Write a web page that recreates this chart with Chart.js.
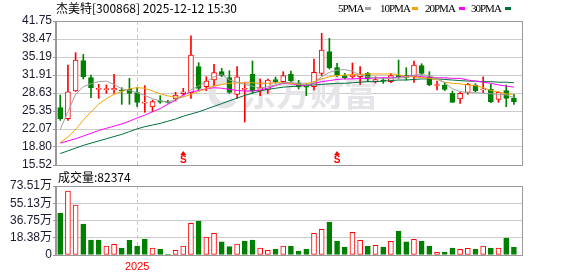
<!DOCTYPE html>
<html lang="zh">
<head>
<meta charset="utf-8">
<title>杰美特 周K线</title>
<script src="https://cdn.jsdelivr.net/npm/chart.js@4.4.1/dist/chart.umd.min.js"></script>
<style>
  html, body { margin: 0; padding: 0; background: #fff; }
  #wrap { position: relative; width: 578px; height: 276px; overflow: hidden; }
  canvas { position: absolute; left: 0; }
  #kCanvas { top: 0; }
  #volCanvas { top: 170px; }
  .txt { position: absolute; font: 12px "Noto Sans CJK SC", sans-serif; line-height: 12px; color: #000; white-space: nowrap; }
  .lg { position: absolute; top: 3px; font: 11px "Liberation Serif", serif; letter-spacing: -1px; line-height: 11px; color: #000; white-space: nowrap; }
  .sw { position: absolute; top: 7px; width: 6px; height: 3px; }
</style>
</head>
<body>
<div id="wrap">
  <canvas id="kCanvas" width="578" height="176"></canvas>
  <canvas id="volCanvas" width="578" height="106"></canvas>
  <div class="txt" id="title" style="left:56px; top:2px">杰美特[300868] 2025-12-12 15:30</div>
  <div class="lg" style="left:338px">5PMA</div><div class="sw" style="left:365px; background:#a0a0a0"></div>
  <div class="lg" style="left:380px">10PMA</div><div class="sw" style="left:412px; background:#f5a300"></div>
  <div class="lg" style="left:425px">20PMA</div><div class="sw" style="left:459px; background:#ff00ff"></div>
  <div class="lg" style="left:471px">30PMA</div><div class="sw" style="left:505px; background:#00703a"></div>
  <div class="txt" id="volTitle" style="left:58px; top:171px">成交量:82374</div>
</div>
<script>
// 杰美特(300868) 周K线，60 周，最后一周 2025-12-12
const opens  = [25.96,23.96,29.0,34.52,31.43,29.3,29.25,29.2,29.12,29.3,
                28.69,26.8,26.08,27.2,27.1,27.54,28.51,28.7,33.43,29.79,
                31.0,32.52,31.43,28.39,29.3,32.03,29.0,29.18,31.06,30.7,
                32.03,30.45,29.8,29.79,32.21,36.16,33.25,31.79,31.6,31.6,
                32.21,30.7,30.9,30.7,31.8,31.79,31.6,33.61,31.6,30.0,
                30.09,28.57,27.54,28.75,30.09,29.2,29.3,27.48,29.06,27.66];
const highs  = [28.27,33.73,35.98,35.67,31.91,30.21,30.09,32.03,29.6,31.3,
                29.6,29.97,27.35,28.15,27.3,28.76,29.48,39.07,34.16,31.6,
                33.85,33.12,32.7,33.43,30.5,34.46,31.18,31.18,31.55,32.52,
                32.64,30.94,30.33,34.82,39.5,38.59,34.04,32.21,34.1,33.43,
                32.4,31.6,31.4,32.2,34.64,33.25,34.46,33.97,32.52,30.82,
                30.58,29.0,28.75,30.4,30.33,31.6,30.2,28.87,30.09,28.39];
const lows   = [23.65,23.65,28.9,31.18,27.78,27.66,28.57,28.57,26.57,26.57,
                26.14,25.11,25.23,26.75,26.8,27.18,28.27,27.66,29.18,29.06,
                29.97,31.6,28.57,27.66,23.35,28.57,28.15,28.57,30.4,30.4,
                30.58,29.36,28.15,29.18,31.79,33.0,31.6,31.18,31.3,30.2,
                30.7,30.45,30.4,30.5,31.3,31.0,30.58,31.91,29.97,29.18,
                29.06,26.93,26.75,28.39,28.87,28.69,26.87,26.93,26.14,26.57];
const closes = [23.96,28.87,34.64,31.55,29.6,29.4,29.3,29.5,29.0,28.57,
                26.93,26.9,27.05,26.95,26.93,28.27,28.87,35.55,29.48,30.82,
                32.34,31.79,28.75,31.6,29.4,29.0,29.6,31.0,30.7,31.79,
                30.82,29.72,29.7,32.4,36.46,33.25,31.9,31.43,31.9,32.03,
                31.18,31.1,30.8,31.79,31.6,31.43,33.73,32.21,30.09,30.1,
                29.3,26.93,28.57,30.2,29.06,29.3,27.05,28.75,27.66,27.05];

// 均线
const ma5  = [22.0,25.2,28.4,29.8,30.3,30.7,30.8,30.2,29.4,29.1,
              28.7,28.2,27.6,27.2,27.0,27.4,28.0,29.2,29.9,30.7,
              31.6,32.0,31.0,30.6,30.2,29.9,29.5,29.8,30.1,30.5,
              30.6,30.3,30.1,30.5,31.6,32.4,32.8,32.9,32.6,31.9,
              31.6,31.4,31.2,31.3,31.4,31.4,31.9,32.0,31.8,31.3,
              30.5,29.4,28.9,28.7,28.7,28.6,28.5,28.4,28.3,27.8];
const ma10 = [19.6,20.6,22.0,23.7,25.2,26.6,27.6,28.4,28.9,29.4,
              29.6,29.5,29.0,28.5,28.1,27.9,27.9,28.4,28.9,29.4,
              29.9,30.2,30.4,30.5,30.5,30.5,30.4,30.4,30.5,30.5,
              30.4,30.2,30.3,30.7,31.2,31.6,31.8,31.9,32.0,32.0,
              32.1,32.1,32.1,32.1,32.0,31.6,31.6,31.4,31.3,31.1,
              30.6,30.4,30.3,30.1,30.0,29.6,29.1,28.8,28.5,28.4];
const ma20 = [19.5,19.9,20.3,20.8,21.3,21.8,22.2,22.6,23.0,23.5,
              24.1,24.6,25.2,25.8,26.6,27.3,28.3,28.8,29.1,29.4,
              29.6,29.5,29.3,29.1,29.0,29.0,29.2,29.5,30.0,30.4,
              30.3,30.1,30.0,30.4,30.7,30.9,31.1,31.2,31.2,31.3,
              31.3,31.4,31.4,31.4,31.5,31.7,31.8,31.6,31.5,31.4,
              31.4,31.3,31.3,31.0,30.8,30.6,30.4,30.1,29.9,29.7];
const ma30 = [17.6,18.1,18.6,19.1,19.5,19.9,20.3,20.7,21.1,21.6,
              22.1,22.5,22.8,23.1,23.5,23.9,24.4,24.8,25.2,25.7,
              26.2,26.7,27.2,27.7,28.2,28.6,29.0,29.3,29.5,29.7,
              29.8,29.9,30.0,30.1,30.2,30.3,30.4,30.4,30.5,30.6,
              30.7,30.7,30.8,30.9,31.0,31.0,31.1,31.2,31.2,31.2,
              31.1,31.0,30.9,30.8,30.8,30.7,30.7,30.6,30.6,30.5];

// 成交量（万股）及颜色，1 = 红，0 = 绿
const volumes = [44.7,68.2,53.3,33.0,16.0,16.0,9.6,11.4,7.5,15.6,
                 9.6,17.0,7.5,6.4,1.1,5.0,9.6,33.7,36.2,19.2,
                 23.1,13.9,8.9,11.7,14.9,16.0,7.5,5.0,6.4,9.6,
                 9.6,4.3,6.4,23.1,27.3,35.2,14.9,8.5,24.1,15.6,
                 9.6,10.3,8.5,14.6,25.6,13.9,16.7,14.9,9.6,2.8,
                 3.2,7.5,6.0,7.1,6.4,9.6,7.5,7.5,18.1,8.2];
const volUp = [0,1,1,0,0,0,1,1,0,0,
               0,0,1,0,0,1,1,1,0,1,
               1,0,0,1,0,0,1,1,0,1,
               0,0,0,1,1,0,0,0,1,1,
               0,1,0,1,0,0,1,0,0,1,
               0,0,1,1,0,1,0,1,0,0];

const priceTicks = ['15.52','18.80','22.07','25.35','28.63','31.91','35.19','38.47','41.75'];
const volTicks = ['0','18.38万','36.75万','55.13万','73.51万'];
const yearIdx = 10;
const yearLabel = '2025';
const signalIdx = [16, 36];

const RED = '#ff0000';
const GREEN = '#008000';
const X_MIN = -0.55, X_MAX = 60.05;
const tickFont = { family: "'Liberation Sans', 'Noto Sans CJK SC', sans-serif", size: 12 };

const isUp = i => closes[i] >= opens[i];
const pts = arr => arr.map((v, i) => ({ x: i, y: v }));

// 边框 + 年份虚线
const framePlugin = {
  id: 'frame',
  beforeDatasetsDraw(chart) {
    const { ctx, chartArea: a, scales } = chart;
    const x = Math.round(scales.x.getPixelForValue(yearIdx)) + 0.5;
    ctx.save();
    ctx.strokeStyle = '#c8c8c8';
    ctx.setLineDash([4, 3]);
    ctx.beginPath();
    ctx.moveTo(x, a.top);
    ctx.lineTo(x, a.bottom);
    ctx.stroke();
    ctx.restore();
  },
  afterDraw(chart) {
    const { ctx, chartArea: a } = chart;
    ctx.save();
    ctx.strokeStyle = '#999';
    ctx.lineWidth = 1;
    ctx.strokeRect(Math.round(a.left) - 0.5, Math.round(a.top) + 0.5,
                   Math.round(a.right - a.left) + 1, Math.round(a.bottom - a.top));
    ctx.restore();
  }
};

// 水印 + S 信号
const markPlugin = {
  id: 'marks',
  beforeDatasetsDraw(chart) {
    const { ctx } = chart;
    ctx.save();
    ctx.fillStyle = '#e4e4e9';
    ctx.strokeStyle = '#e4e4e9';
    ctx.lineWidth = 7;
    ctx.beginPath();
    ctx.arc(224, 93, 12, 0.2 * Math.PI, 1.7 * Math.PI);
    ctx.stroke();
    ctx.font = 'bold 34px "Noto Sans CJK SC"';
    ctx.textBaseline = 'middle';
    ctx.fillText('东方财富', 242, 93);
    ctx.restore();
  },
  afterDatasetsDraw(chart) {
    const { ctx, scales } = chart;
    ctx.save();
    ctx.fillStyle = RED;
    signalIdx.forEach(i => {
      const x = scales.x.getPixelForValue(i);
      ctx.beginPath();
      ctx.moveTo(x, 151);
      ctx.lineTo(x - 3, 155);
      ctx.lineTo(x + 3, 155);
      ctx.closePath();
      ctx.fill();
      ctx.font = 'bold 10px "Liberation Sans"';
      ctx.textAlign = 'center';
      ctx.textBaseline = 'middle';
      ctx.fillText('S', x, 160.5);
    });
    ctx.restore();
  }
};

const yAxisBase = {
  afterFit: s => { s.width = 56; },
  grid: { color: '#cccccc', tickColor: '#999', tickLength: 3 },
  border: { display: true, color: '#999' },
  ticks: { color: '#1a1a2e', font: tickFont, padding: 1, autoSkip: false }
};

new Chart(document.getElementById('kCanvas'), {
  type: 'bar',
  data: {
    datasets: [
      { type: 'line', order: 1, data: pts(ma5),  borderColor: '#a0a0a0', borderWidth: 1, pointRadius: 0 },
      { type: 'line', order: 2, data: pts(ma10), borderColor: '#f5a300', borderWidth: 1, pointRadius: 0 },
      { type: 'line', order: 3, data: pts(ma20), borderColor: '#ff00ff', borderWidth: 1, pointRadius: 0 },
      { type: 'line', order: 4, data: pts(ma30), borderColor: '#00703a', borderWidth: 1, pointRadius: 0 },
      {
        order: 5, grouped: false, barThickness: 5, minBarLength: 1,
        data: opens.map((o, i) => ({ x: i, y: [o, closes[i]] })),
        borderWidth: 1, borderSkipped: false,
        backgroundColor: c => isUp(c.dataIndex) ? '#fff' : GREEN,
        borderColor: c => isUp(c.dataIndex) ? RED : GREEN
      },
      {
        order: 6, grouped: false, barThickness: 1,
        data: lows.map((l, i) => ({ x: i, y: [l, highs[i]] })),
        backgroundColor: c => isUp(c.dataIndex) ? RED : GREEN
      }
    ]
  },
  options: {
    responsive: false,
    animation: false,
    layout: { padding: { top: 21, right: 56, bottom: 11, left: 0 } },
    plugins: { legend: { display: false }, tooltip: { enabled: false } },
    scales: {
      x: { type: 'linear', display: false, offset: false, min: X_MIN, max: X_MAX },
      y: {
        ...yAxisBase,
        min: 15.52, max: 41.75,
        afterBuildTicks: s => { s.ticks = priceTicks.map(t => ({ value: parseFloat(t) })); },
        ticks: { ...yAxisBase.ticks, callback: (v, i) => priceTicks[i] }
      }
    }
  },
  plugins: [framePlugin, markPlugin]
});

new Chart(document.getElementById('volCanvas'), {
  type: 'bar',
  data: {
    datasets: [{
      grouped: false, barThickness: 5,
      data: pts(volumes),
      borderWidth: 1, borderSkipped: false,
      backgroundColor: c => volUp[c.dataIndex] ? '#fff' : GREEN,
      borderColor: c => volUp[c.dataIndex] ? RED : GREEN
    }]
  },
  options: {
    responsive: false,
    animation: false,
    layout: { padding: { top: 16, right: 56, bottom: 0, left: 0 } },
    plugins: { legend: { display: false }, tooltip: { enabled: false } },
    scales: {
      x: {
        type: 'linear', offset: false, min: X_MIN, max: X_MAX,
        afterFit: s => { s.height = 21; },
        afterBuildTicks: s => { s.ticks = [{ value: yearIdx }]; },
        grid: { display: false, drawTicks: false, offset: false },
        border: { display: true, color: '#999' },
        ticks: { callback: () => yearLabel, color: RED, font: { ...tickFont, size: 11 }, padding: 5, autoSkip: false, maxRotation: 0 }
      },
      y: {
        ...yAxisBase,
        min: 0, max: 73.51,
        afterBuildTicks: s => { s.ticks = volTicks.map(t => ({ value: parseFloat(t) })); },
        ticks: { ...yAxisBase.ticks, callback: (v, i) => volTicks[i] }
      }
    }
  },
  plugins: [framePlugin]
});
</script>
</body>
</html>
